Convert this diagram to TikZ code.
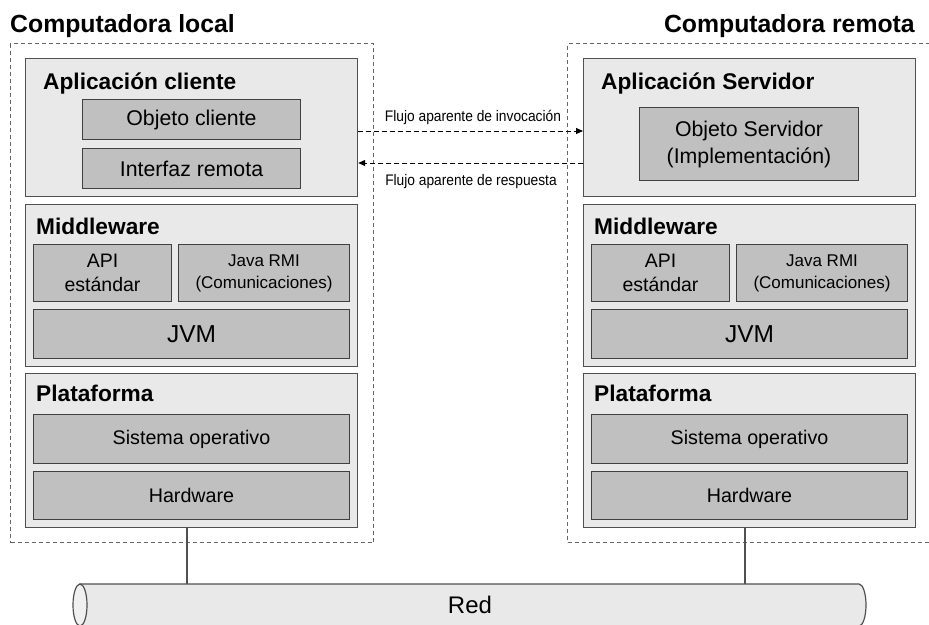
\documentclass[tikz,border=0pt]{standalone}
\usepackage{fontspec}
\setmainfont{Liberation Sans}
\newfontfamily\narrowfont[FakeStretch=0.9]{Liberation Sans}
\usetikzlibrary{arrows.meta}
\definecolor{layerfill}{HTML}{E9E9E9}
\definecolor{partfill}{HTML}{C0C0C0}
\definecolor{edgegray}{HTML}{505050}
\definecolor{dashgray}{HTML}{666666}
% font size with explicit line spacing
\newcommand{\fs}[2]{\fontsize{#1}{#2}\selectfont}
% rectangular node given by its two corners (x1,y1) (x2,y2)
\newcommand{\panel}[7]{\node[#2, minimum width={(#5-#3)*1pt}, minimum height={(#6-#4)*1pt}] (#1) at (#3,#4) {#7};}

\begin{document}
\begin{tikzpicture}[x=1pt,y=-1pt,
  computer/.style={draw=dashgray, line width=1pt, dash pattern=on 4pt off 3pt, inner sep=0pt, anchor=north west},
  layer/.style={draw=edgegray, fill=layerfill, line width=1.2pt, inner sep=0pt, anchor=north west},
  part/.style={draw=black!75, fill=partfill, line width=1pt, inner sep=0pt, anchor=north west, align=center},
  heading/.style={font=\bfseries\fs{24.8}{28}, inner sep=0pt},
  layertitle/.style={font=\bfseries\fs{22.7}{26}, inner sep=0pt, anchor=base west},
  flow/.style={draw=black, line width=1pt, dash pattern=on 5pt off 3pt, -{Triangle[length=7pt,width=6pt]}},
  flowlabel/.style={font=\narrowfont\fs{15.3}{18}, inner sep=0pt, anchor=base},
  wire/.style={draw=edgegray, line width=1.2pt},
]
\useasboundingbox (0,0) rectangle (929,624);
\clip (0,0) rectangle (929,624);

% ---------- headings ----------
\node[heading, anchor=base west] (hlocal) at (10,32) {Computadora local};
\node[heading, anchor=base east] (hremote) at (915,32) {Computadora remota};

% ---------- machine frames ----------
\panel{local}{computer}{10}{43}{373}{542}{}
\panel{remote}{computer}{567}{43}{950}{542}{}

% ---------- local stack ----------
\panel{appC}{layer}{25}{58}{357}{196}{}
\panel{mwC}{layer}{25}{204}{357}{366}{}
\panel{platC}{layer}{25}{373}{357}{527}{}
\node[layertitle] (tappC) at (43,89) {Aplicación cliente};
\node[layertitle] (tmwC) at (36,234) {Middleware};
\node[layertitle] (tplatC) at (36,401) {Plataforma};
\panel{objC}{part, font=\fs{21.3}{26}}{82}{99}{300}{139}{Objeto cliente}
\panel{ifC}{part, font=\fs{21.3}{26}}{82}{148}{300}{188}{Interfaz remota}
\panel{apiC}{part, font=\fs{19.5}{24}}{33}{244}{171}{301}{API\\estándar}
\panel{rmiC}{part, font=\fs{17}{22}}{178}{244}{349}{301}{Java RMI\\(Comunicaciones)}
\panel{jvmC}{part, font=\fs{24.5}{28}}{33}{309}{349}{358}{JVM}
\panel{soC}{part, font=\fs{19.7}{24}}{33}{414}{349}{463}{Sistema operativo}
\panel{hwC}{part, font=\fs{19.7}{24}}{33}{471}{349}{519}{Hardware}

% ---------- remote stack ----------
\panel{appS}{layer}{583}{58}{915}{196}{}
\panel{mwS}{layer}{583}{204}{915}{366}{}
\panel{platS}{layer}{583}{373}{915}{527}{}
\node[layertitle] (tappS) at (601,89) {Aplicación Servidor};
\node[layertitle] (tmwS) at (594,234) {Middleware};
\node[layertitle] (tplatS) at (594,401) {Plataforma};
\panel{objS}{part, font=\fs{21.3}{27}}{639}{107}{858}{180}{Objeto Servidor\\(Implementación)}
\panel{apiS}{part, font=\fs{19.5}{24}}{591}{244}{729}{301}{API\\estándar}
\panel{rmiS}{part, font=\fs{17}{22}}{736}{244}{907}{301}{Java RMI\\(Comunicaciones)}
\panel{jvmS}{part, font=\fs{24.5}{28}}{591}{309}{907}{358}{JVM}
\panel{soS}{part, font=\fs{19.7}{24}}{591}{414}{907}{463}{Sistema operativo}
\panel{hwS}{part, font=\fs{19.7}{24}}{591}{471}{907}{519}{Hardware}

% ---------- apparent flows ----------
\coordinate (invY) at (0,131);
\coordinate (resY) at (0,163);
\draw[flow] (appC.east |- invY) -- (appS.west |- invY);
\draw[flow] (appS.west |- resY) -- (appC.east |- resY);
\node[flowlabel] (linv) at (473,121) {Flujo aparente de invocación};
\node[flowlabel] (lres) at (471,185) {Flujo aparente de respuesta};

% ---------- network (runs past the lower edge) ----------
\draw[draw=edgegray, fill=layerfill, line width=1.2pt]
  (80,584) -- (859,584) arc[start angle=90, end angle=-90, x radius=7pt, y radius=21pt]
  -- (80,626) -- cycle;
\draw[draw=edgegray, fill=layerfill!70!white, line width=1.2pt]
  (80,605) ellipse[x radius=7pt, y radius=21pt];
\node[font=\fs{24}{28}, inner sep=0pt, anchor=base] (red) at (470,613) {Red};
\coordinate (netL) at (187,584);
\coordinate (netR) at (745,584);
\draw[wire] (platC.south -| netL) -- (netL);
\draw[wire] (platS.south -| netR) -- (netR);
\end{tikzpicture}
\end{document}
